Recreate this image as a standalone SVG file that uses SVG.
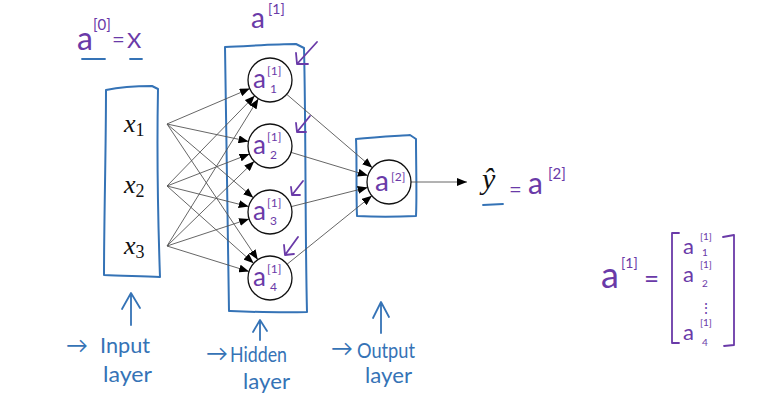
<svg xmlns="http://www.w3.org/2000/svg" width="762" height="405" viewBox="0 0 762 405">
<defs>
<style>
.bg{fill:#ffffff}
.box{fill:none;stroke:#3573b6;stroke-width:2;stroke-linejoin:round;stroke-linecap:round}
.pen{fill:none;stroke:#3573b6;stroke-width:1.8;stroke-linecap:round;stroke-linejoin:round}
.ppen{fill:none;stroke:#6a3aa8;stroke-width:1.8;stroke-linecap:round;stroke-linejoin:round}
.node{fill:#ffffff;stroke:#111111;stroke-width:1.3}
.edge{fill:none;stroke:#555555;stroke-width:0.9;marker-end:url(#ah)}
.pu{fill:#6a3aa8;font-family:"Lato","Liberation Sans",sans-serif}
.bl{fill:#3573b6;font-family:"Lato","Liberation Sans",sans-serif;font-size:22px}
.mx{fill:#111111;font-family:"Liberation Serif",serif;font-style:italic}
.sub{font-style:normal}
</style>
<marker id="ah" markerUnits="userSpaceOnUse" viewBox="0 0 10 8" markerWidth="10" markerHeight="8" refX="10" refY="4" orient="auto">
<path d="M0,0 L10,4 L0,8 Z" fill="#000000"/>
</marker>
</defs>
<rect class="bg" x="0" y="0" width="762" height="405"/>

<g id="top-labels">
<text class="pu" x="77" y="50" font-size="32">a</text>
<text class="pu" x="93" y="30" font-size="15">[0]</text>
<text class="pu" x="112" y="47" font-size="22">=</text>
<text class="pu" x="127" y="48" font-size="22">X</text>
<path class="pen" d="M82,59 L105,59"/>
<path class="pen" d="M130,59 L142,59"/>
<text class="pu" x="251" y="28" font-size="28">a</text>
<text class="pu" x="268" y="14" font-size="14">[1]</text>
</g>

<g id="input-layer">
<path class="box" d="M106,90 C120,87 140,86 152,86 L158,89 C157,140 158,220 160,277 C140,276 120,276 104,275 C104,220 106,150 106,90 Z"/>
<text class="mx" x="124" y="132" font-size="26">x<tspan class="sub" font-size="18" dy="4">1</tspan></text>
<text class="mx" x="124" y="193" font-size="26">x<tspan class="sub" font-size="18" dy="4">2</tspan></text>
<text class="mx" x="124" y="254" font-size="26">x<tspan class="sub" font-size="18" dy="4">3</tspan></text>
</g>

<g id="hidden-layer">
<path class="box" d="M225,47 C250,46 275,44 296,44 L304,48 C306,130 305,230 307,312 C280,313 255,312 229,311 C227,220 226,130 225,47 Z"/>
</g>

<g id="output-layer">
<path class="box" d="M356,139 C375,137 395,136 410,135 L416,139 C416,165 417,195 416,216 C395,217 375,217 357,216 C356,190 357,160 356,139 Z"/>
</g>

<g id="connectors">
<path class="edge" d="M167,124 L249.8,88.6"/>
<path class="edge" d="M167,124 L248.5,141.4"/>
<path class="edge" d="M167,124 L253.3,197.7"/>
<path class="edge" d="M167,124 L257.8,259.7"/>
<path class="edge" d="M167,186 L254.7,95.8"/>
<path class="edge" d="M167,186 L249.5,154.0"/>
<path class="edge" d="M167,186 L248.7,206.6"/>
<path class="edge" d="M167,186 L253.6,263.3"/>
<path class="edge" d="M167,246 L258.4,98.7"/>
<path class="edge" d="M167,246 L254.2,161.3"/>
<path class="edge" d="M167,246 L249.1,218.9"/>
<path class="edge" d="M167,246 L249.0,271.5"/>
<path class="edge" d="M286.7,94.3 L372.3,167.7"/>
<path class="edge" d="M291.1,152.4 L367.9,175.6"/>
<path class="edge" d="M291.3,206.6 L367.7,187.4"/>
<path class="edge" d="M287.1,264.2 L371.9,195.8"/>
<path class="edge" d="M411,182 L467,182"/>
</g>

<g id="a1">
<circle class="node" cx="270" cy="80" r="22"/>
<text class="pu" x="253" y="88" font-size="26">a</text>
<text class="pu" x="267" y="75" font-size="12">[1]</text>
<text class="pu" x="270" y="93" font-size="12">1</text>
<path class="ppen" d="M317,42 L297,64 M296,53 L297,64 L308,64"/>
</g>
<g id="a2">
<circle class="node" cx="270" cy="146" r="22"/>
<text class="pu" x="253" y="154" font-size="26">a</text>
<text class="pu" x="267" y="141" font-size="12">[1]</text>
<text class="pu" x="270" y="159" font-size="12">2</text>
<path class="ppen" d="M310,116 L297,132 M296,123 L297,132 L306,132"/>
</g>
<g id="a3">
<circle class="node" cx="270" cy="212" r="22"/>
<text class="pu" x="253" y="220" font-size="26">a</text>
<text class="pu" x="267" y="207" font-size="12">[1]</text>
<text class="pu" x="270" y="225" font-size="12">3</text>
<path class="ppen" d="M303,181 L292,195 M291,187 L292,195 L300,195"/>
</g>
<g id="a4">
<circle class="node" cx="270" cy="278" r="22"/>
<text class="pu" x="253" y="286" font-size="26">a</text>
<text class="pu" x="267" y="273" font-size="12">[1]</text>
<text class="pu" x="270" y="291" font-size="12">4</text>
<path class="ppen" d="M298,237 L285,255 M284,245 L285,255 L294,254"/>
</g>

<g id="a-out">
<circle class="node" cx="389" cy="182" r="22"/>
<text class="pu" x="375" y="191" font-size="28">a</text>
<text class="pu" x="391" y="181" font-size="12">[2]</text>
</g>

<g id="y-hat">
<text class="mx" x="482" y="189" font-size="30">ŷ</text>
<path class="pen" d="M483,205 L503,204"/>
<text class="pu" x="509" y="197" font-size="22">=</text>
<text class="pu" x="528" y="194" font-size="30">a</text>
<text class="pu" x="548" y="179" font-size="15">[2]</text>
</g>

<g id="matrix">
<text class="pu" x="601" y="288" font-size="36">a</text>
<text class="pu" x="621" y="268" font-size="14">[1]</text>
<text class="pu" x="644" y="288" font-size="26">=</text>
<path class="ppen" d="M679,233 L672,233 L672,343 L679,343"/>
<path class="ppen" d="M723,237 L734,235 L734,345 L724,346"/>
<text class="pu" x="683" y="254" font-size="22">a</text>
<text class="pu" x="700" y="240" font-size="10">[1]</text>
<text class="pu" x="702" y="256" font-size="10">1</text>
<text class="pu" x="683" y="282" font-size="22">a</text>
<text class="pu" x="700" y="268" font-size="10">[1]</text>
<text class="pu" x="702" y="287" font-size="10">2</text>
<text class="pu" x="699" y="313" font-size="14">⋮</text>
<text class="pu" x="683" y="340" font-size="22">a</text>
<text class="pu" x="700" y="326" font-size="10">[1]</text>
<text class="pu" x="702" y="346" font-size="10">4</text>
</g>

<g id="label-input">
<path class="pen" d="M131,325 L131,294 M122,309 L131,293 L140,308"/>
<text class="bl" x="66" y="353" font-size="18">→</text>
<text class="bl" x="100" y="353" textLength="50" lengthAdjust="spacingAndGlyphs">Input</text>
<text class="bl" x="103" y="382" textLength="49" lengthAdjust="spacingAndGlyphs">layer</text>
</g>
<g id="label-hidden">
<path class="pen" d="M260,340 L260,321 M253,332 L260,320 L267,331"/>
<text class="bl" x="206" y="361" font-size="18">→</text>
<text class="bl" x="230" y="362" textLength="57" lengthAdjust="spacingAndGlyphs">Hidden</text>
<text class="bl" x="243" y="389" textLength="47" lengthAdjust="spacingAndGlyphs">layer</text>
</g>
<g id="label-output">
<path class="pen" d="M381,333 L381,303 M373,318 L381,302 L389,317"/>
<text class="bl" x="331" y="356" font-size="18">→</text>
<text class="bl" x="357" y="358" textLength="58" lengthAdjust="spacingAndGlyphs">Output</text>
<text class="bl" x="365" y="383" textLength="47" lengthAdjust="spacingAndGlyphs">layer</text>
</g>
</svg>
